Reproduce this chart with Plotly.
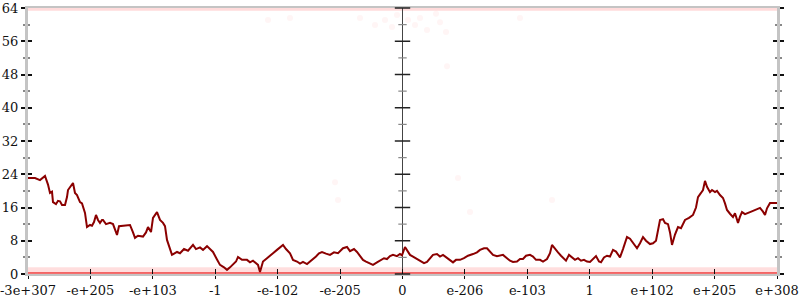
import numpy as np
import plotly.graph_objects as go

# x axis: rank position along the ordered float line (0 .. 749), 12 equal intervals
tick_labels = ["-3e+307", "-e+205", "-e+103", "-1", "-e-102", "-e-205", "0",
               "e-206", "e-103", "1", "e+102", "e+205", "e+308"]
x_max = 749
y_ticks = [0, 8, 16, 24, 32, 40, 48, 56, 64]

# main series: (rank, value)
rank = [0, 7, 12, 17, 20, 22, 24, 25, 28, 30, 32, 34, 37, 39, 40, 42, 45, 47, 49, 52, 54, 57, 59, 62,
        64, 66, 68, 70, 72, 74, 75, 78, 82, 85, 89, 91, 94, 98, 102, 105, 107, 110, 115, 118, 120, 123,
        125, 129, 132, 135, 137, 139, 142, 144, 149, 152, 156, 160, 165, 168, 172, 175, 179, 182, 185,
        189, 192, 196, 199, 202, 205, 208, 210, 214, 219, 222, 225, 228, 230, 232, 235, 239, 242, 245,
        249, 252, 255, 258, 262, 265, 269, 272, 275, 279, 282, 285, 288, 291, 294, 298, 302, 306, 310,
        315, 319, 322, 326, 329, 332, 335, 338, 342, 345, 349, 352, 356, 359, 362, 365, 369, 372, 374,
        377, 380, 382, 385, 389, 392, 396, 399, 402, 405, 409, 412, 415, 419, 422, 425, 428, 432, 436,
        440, 445, 449, 452, 456, 459, 462, 465, 469, 472, 475, 479, 482, 485, 489, 492, 495, 498, 502,
        505, 508, 512, 515, 519, 522, 524, 527, 530, 533, 535, 538, 541, 544, 547, 550, 553, 556, 559,
        562, 565, 568, 571, 573, 576, 579, 582, 585, 588, 592, 595, 599, 602, 605, 609, 612, 615, 618,
        622, 625, 628, 632, 635, 637, 640, 642, 644, 647, 650, 653, 657, 661, 665, 668, 670, 673, 675,
        677, 679, 682, 684, 687, 689, 692, 695, 697, 699, 702, 705, 707, 710, 712, 714, 717, 720, 722,
        725, 729, 732, 735, 737, 739, 742, 749]
value = [23.1, 23.1, 22.6, 23.6, 21.5, 19.5, 19.8, 17.3, 16.8, 17.6, 17.5, 16.6, 16.6, 18.5, 20.2, 20.8,
         21.9, 19.5, 19.0, 17.3, 17.0, 14.7, 11.3, 11.8, 11.6, 12.5, 14.2, 13.0, 12.3, 13.0, 13.0, 12.0,
         12.3, 12.0, 9.4, 11.5, 11.6, 11.8, 11.8, 10.0, 8.7, 9.2, 9.0, 10.0, 11.3, 10.1, 13.5, 14.9, 13.0,
         12.3, 11.5, 8.2, 5.8, 4.6, 5.3, 5.0, 6.0, 5.6, 7.0, 6.0, 6.4, 5.8, 6.7, 5.9, 5.3, 3.5, 2.2, 1.6,
         1.0, 1.6, 2.2, 3.0, 4.1, 3.4, 3.4, 2.8, 3.2, 2.7, 2.2, 0.5, 3.0, 3.8, 4.5, 5.0, 5.8, 6.5, 7.0,
         6.0, 5.0, 3.4, 3.0, 2.5, 2.9, 2.4, 3.0, 3.4, 4.2, 5.0, 5.3, 4.9, 4.6, 5.2, 5.0, 6.2, 6.5, 5.5,
         6.0, 5.3, 4.2, 3.4, 3.0, 2.6, 2.2, 2.8, 3.2, 3.8, 3.6, 4.3, 4.6, 4.3, 4.8, 4.5, 6.5, 5.5, 4.6,
         4.2, 3.6, 3.2, 2.6, 2.9, 3.8, 4.6, 4.8, 4.2, 4.6, 3.8, 3.2, 2.8, 3.4, 3.4, 3.8, 4.4, 4.8, 5.2,
         5.8, 6.2, 6.2, 5.3, 4.6, 4.3, 4.5, 4.6, 3.8, 3.2, 2.9, 3.0, 3.6, 3.6, 4.4, 4.6, 4.2, 3.4, 3.4,
         3.0, 3.6, 5.0, 7.0, 6.0, 5.2, 4.4, 4.0, 3.2, 4.6, 4.0, 3.4, 3.8, 3.2, 3.4, 3.0, 2.9, 3.6, 4.3,
         3.0, 2.8, 4.0, 4.4, 4.2, 5.8, 5.4, 4.0, 6.0, 8.9, 8.5, 7.4, 6.2, 7.4, 8.9, 8.0, 7.2, 7.4, 8.0,
         13.0, 13.2, 12.3, 12.0, 10.0, 7.0, 9.5, 11.3, 11.0, 13.0, 13.5, 14.2, 16.0, 18.5, 19.5, 20.2,
         22.4, 21.0, 19.7, 20.2, 19.7, 20.0, 19.0, 18.3, 17.0, 15.4, 14.5, 13.7, 14.6, 12.3, 13.8, 14.9,
         14.4, 14.8, 14.9, 15.2, 15.5, 15.9, 15.0, 14.2, 15.8, 17.1, 17.1]

# faint scattered samples (rank, value)
dot_rank = [332, 347, 357, 364, 369, 380, 387, 392, 399, 408, 412, 418, 419, 262, 240, 307, 310, 430,
            442, 524, 492]
dot_value = [61.6, 59.9, 61.1, 59.4, 62.3, 61.1, 59.9, 61.6, 58.7, 62.6, 60.6, 58.2, 50.0, 61.6, 61.1,
             22.1, 17.8, 23.1, 14.9, 17.8, 61.6]

# dense bands of samples at the extremes
band_low = 0.9
band_zero = 0.0
band_high = 63.7

tickvals = list(np.linspace(0, x_max, len(tick_labels)))
center = tickvals[6]
font = dict(family="DejaVu Serif", size=13, color="#111")

fig = go.Figure()

# bands
fig.add_trace(go.Scatter(x=[0, x_max], y=[band_low, band_low], mode="lines",
                         line=dict(color="rgba(255,0,0,0.13)", width=6), hoverinfo="skip"))
fig.add_trace(go.Scatter(x=[0, x_max], y=[band_zero, band_zero], mode="lines",
                         line=dict(color="rgba(235,20,20,0.6)", width=4), hoverinfo="skip"))
fig.add_trace(go.Scatter(x=[0, x_max], y=[band_high, band_high], mode="lines",
                         line=dict(color="rgba(255,0,0,0.14)", width=3), hoverinfo="skip"))
# scattered dots
fig.add_trace(go.Scatter(x=dot_rank, y=dot_value, mode="markers",
                         marker=dict(size=6, color="rgba(255,60,60,0.05)"), hoverinfo="skip"))

# center vertical line with crossing ticks
fig.add_trace(go.Scatter(x=[center, center], y=[0, 64], mode="lines",
                         line=dict(color="#444", width=1), hoverinfo="skip"))
fig.add_trace(go.Scatter(x=[center] * len(y_ticks), y=y_ticks, mode="markers",
                         marker=dict(symbol="line-ew", size=11, line=dict(color="#222", width=1.5)),
                         cliponaxis=False, hoverinfo="skip"))
minor_y = [v + 4 for v in y_ticks[:-1]]
fig.add_trace(go.Scatter(x=[center] * len(minor_y), y=minor_y, mode="markers",
                         marker=dict(symbol="line-ew", size=6, line=dict(color="#888", width=1.2)),
                         hoverinfo="skip"))

# main line
fig.add_trace(go.Scatter(x=rank, y=value, mode="lines",
                         line=dict(color="#8b0000", width=2), hoverinfo="skip"))

# ticks crossing axes: second overlaid axes with inside ticks
fig.add_trace(go.Scatter(x=[0], y=[0], xaxis="x2", yaxis="y2", mode="markers",
                         marker=dict(opacity=0), hoverinfo="skip"))

fig.update_layout(
    width=800, height=300, showlegend=False,
    margin=dict(l=28, r=23, t=8, b=26, autoexpand=False),
    plot_bgcolor="white", paper_bgcolor="white",
    xaxis=dict(range=[0, x_max], tickvals=tickvals, ticktext=tick_labels, ticks="outside",
               ticklen=3, tickwidth=1, tickcolor="#111", showline=True, linecolor="#c4c4c4",
               linewidth=2, mirror=True, showgrid=False, zeroline=False, tickfont=font,
               layer="below traces", automargin=False, ticklabeloverflow="allow"),
    xaxis2=dict(range=[0, x_max], overlaying="x", side="bottom", tickvals=tickvals,
                ticks="inside", ticklen=5, tickwidth=1, tickcolor="#111", showticklabels=False,
                showline=False, showgrid=False, zeroline=False, automargin=False),
    yaxis=dict(range=[0, 64], tickvals=y_ticks, ticks="outside", ticklen=4, tickwidth=1.5,
               tickcolor="#111", showline=True, linecolor="#c4c4c4", linewidth=3, mirror="ticks",
               showgrid=False, zeroline=False, tickfont=font, automargin=False,
               ticklabeloverflow="allow",
               minor=dict(dtick=4, tick0=0, ticks="outside", ticklen=2, tickcolor="#888")),
    yaxis2=dict(range=[0, 64], overlaying="y", tickvals=y_ticks, ticks="inside", ticklen=4,
                tickwidth=1.5, tickcolor="#111", showticklabels=False, mirror="ticks",
                showline=False, showgrid=False, zeroline=False, automargin=False,
                minor=dict(dtick=4, tick0=0, ticks="inside", ticklen=2, tickcolor="#888")),
)

fig.write_html("out.html")
